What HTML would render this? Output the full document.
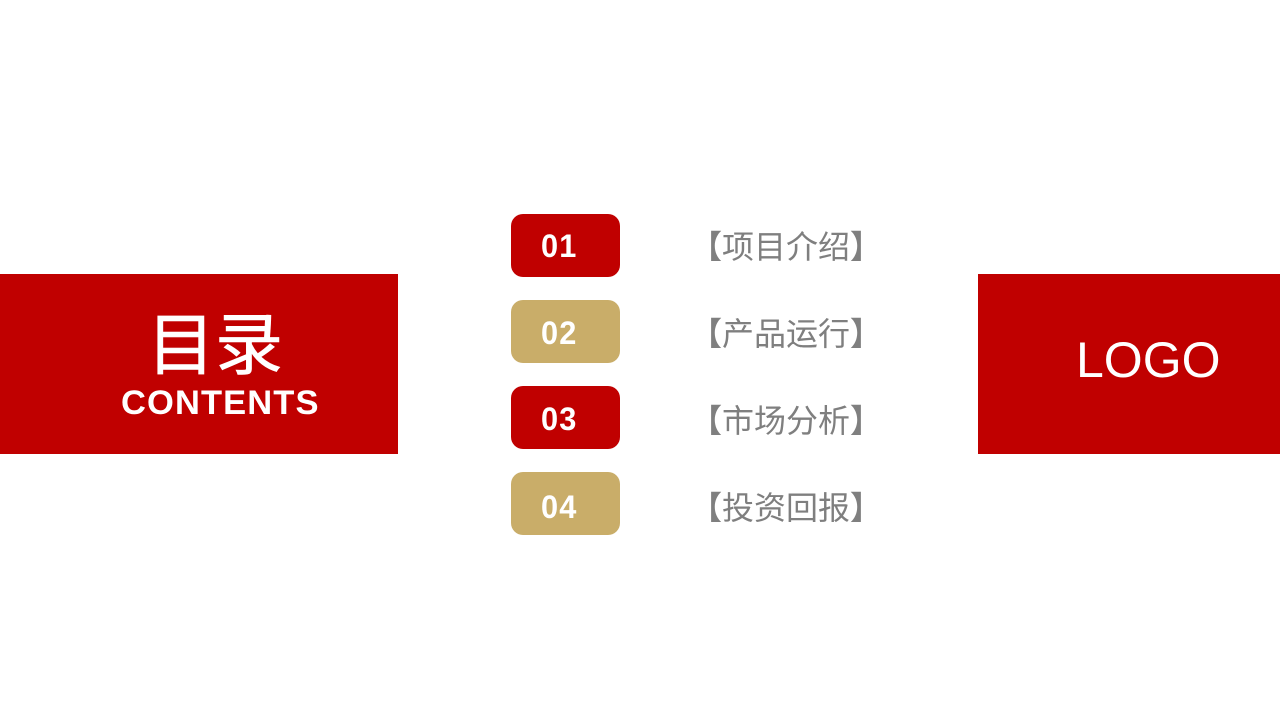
<!DOCTYPE html>
<html>
<head>
<meta charset="utf-8">
<style>
html,body{margin:0;padding:0;background:#fff;}
#p{position:relative;width:1280px;height:720px;overflow:hidden;background:#fff;font-family:"Liberation Sans","Noto Sans CJK SC","WenQuanYi Zen Hei",sans-serif;}
#p div{position:absolute;white-space:nowrap;}
.r{background:#c00000;}
.b{left:511px;width:109px;height:63px;border-radius:12px;}
.n{left:541px;font-size:32px;letter-spacing:1.2px;line-height:36px;font-weight:bold;color:#fff;transform:scaleX(.96);transform-origin:0 50%;}
.t{left:690px;font-size:32px;line-height:40px;color:#7f7f7f;}
.t b{font-weight:bold;}
</style>
</head>
<body>
<div id="p">
<div class="r" style="left:0;top:274px;width:398px;height:180px;"></div>
<div class="r" style="left:978px;top:274px;width:302px;height:180px;"></div>
<div style="left:147px;top:306px;font-size:68px;line-height:80px;color:#fff;-webkit-text-stroke:0.6px #fff;">目录</div>
<div style="left:121px;top:382px;font-size:34.5px;letter-spacing:1.1px;line-height:42px;font-weight:bold;color:#fff;">CONTENTS</div>
<div style="left:1076px;top:330px;font-size:50px;line-height:60px;color:#fff;">LOGO</div>
<div class="b r" style="top:214px;"></div>
<div class="b" style="top:300px;background:#c9ad69;"></div>
<div class="b r" style="top:386px;"></div>
<div class="b" style="top:472px;background:#c9ad69;"></div>
<div class="n" style="top:228px;">01</div>
<div class="n" style="top:315px;">02</div>
<div class="n" style="top:401px;">03</div>
<div class="n" style="top:489px;">04</div>
<div class="t" style="top:227px;"><b>【</b>项目介绍<b>】</b></div>
<div class="t" style="top:314px;"><b>【</b>产品运行<b>】</b></div>
<div class="t" style="top:401px;"><b>【</b>市场分析<b>】</b></div>
<div class="t" style="top:488px;"><b>【</b>投资回报<b>】</b></div>
</div>
</body>
</html>
